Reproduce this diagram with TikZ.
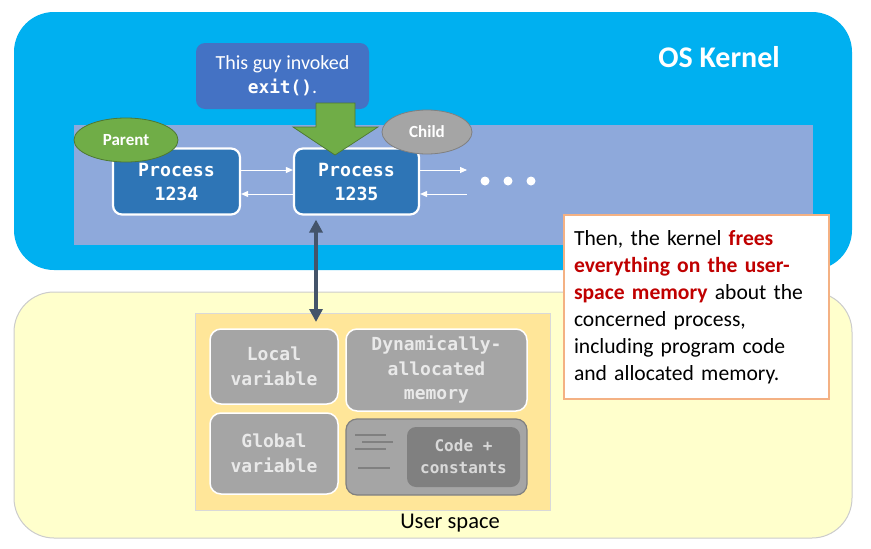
\documentclass[tikz,border=0pt]{standalone}
\usepackage{fontspec}
\setmainfont{Carlito}
\setmonofont{DejaVu Sans Mono}
\usetikzlibrary{arrows.meta,shapes.geometric}
\definecolor{kernel}{HTML}{00B0F0}
\definecolor{inner}{HTML}{8EA9DB}
\definecolor{usr}{HTML}{FFFFCC}
\definecolor{mem}{HTML}{FFE699}
\definecolor{proc}{HTML}{2E75B6}
\definecolor{call}{HTML}{4472C4}
\definecolor{grn}{HTML}{70AD47}
\definecolor{gry}{HTML}{A5A5A5}
\definecolor{dk}{HTML}{44546A}
\definecolor{red0}{HTML}{C00000}
\definecolor{org}{HTML}{F4B183}
\tikzset{
  procbox/.style={draw=white,line width=2.2pt,fill=proc,rounded corners=9pt,text=white,font=\ttfamily\bfseries\fontsize{18.2}{24}\selectfont,align=center},
  membox/.style={draw=white,line width=1.5pt,fill=gry,rounded corners=11pt,text=white!75!gry,font=\ttfamily\bfseries\fontsize{18}{24.5}\selectfont,align=center},
  wa/.style={white,line width=0.9pt,-{Triangle[length=7pt,width=6pt]}},
  codeline/.style={draw=black!50,line width=1.3pt},
  dotn/.style={circle,fill=white,inner sep=0pt,minimum size=9pt}
}
\begin{document}
\begin{tikzpicture}[x=1pt,y=-1pt]
\useasboundingbox (0,0) rectangle (871,549);
\fill[white] (0,0) rectangle (871,549);
% user space
\draw[fill=usr,draw=black!20,line width=1pt,rounded corners=40pt] (14,292) rectangle (852,538);
% kernel
\fill[kernel,rounded corners=40pt] (14,12) rectangle (852,270);
\node[text=white,font=\bfseries\fontsize{30}{34}\selectfont] (oskernel) at (719,57) {OS Kernel};
% inner band
\fill[inner] (74,125) rectangle (813,245);
% processes
\node[procbox,minimum width=127pt,minimum height=66pt] (p1) at (176.5,181.5) {Process\\1234};
\node[procbox,minimum width=125pt,minimum height=66pt] (p2) at (356.5,181.5) {Process\\1235};
% connector arrows
\coordinate (r1) at (467,170);
\coordinate (r2) at (467,194);
\draw[wa] ([yshift=11.5pt]p1.east) -- ([yshift=11.5pt]p2.west);
\draw[wa] ([yshift=-12.5pt]p2.west) -- ([yshift=-12.5pt]p1.east);
\draw[wa] ([yshift=11.5pt]p2.east) -- (r1);
\draw[wa] (r2) -- ([yshift=-12.5pt]p2.east);
\node[dotn] (d1) at (485,181) {};
\node[dotn] (d2) at (508,181) {};
\node[dotn] (d3) at (531,181) {};
% ellipses
\node[ellipse,fill=grn,draw=grn!70!black,line width=0.8pt,minimum width=104pt,minimum height=44pt,inner sep=0pt,text=white,font=\bfseries\fontsize{17}{19}\selectfont] (parent) at (126,140) {Parent};
\node[ellipse,fill=gry,draw=black!50,line width=0.8pt,minimum width=90pt,minimum height=44pt,inner sep=0pt,text=white,font=\bfseries\fontsize{17}{19}\selectfont] (child) at (427,132) {Child};
% callout
\node[fill=call,rounded corners=9pt,minimum width=173pt,minimum height=66pt,text=white,align=center,font=\fontsize{20}{24}\selectfont] (callout) at (282.5,76) {This guy invoked\\{\ttfamily\bfseries\fontsize{17.8}{24}\selectfont exit()}.};
% green arrow
\fill[grn] (316,103) -- (355,103) -- (355,127) -- (378,127) -- (335,155) -- (293,127) -- (316,127) -- cycle;
\draw[grn!70!black,line width=0.7pt] (316,103) -- (355,103) -- (355,127) -- (378,127) -- (335,155) -- (293,127) -- (316,127) -- cycle;
% memory area
\draw[fill=mem,draw=black!15,line width=1pt] (195,313) rectangle (550,510);
\node[membox,minimum width=128pt,minimum height=75pt] (local) at (274,366.5) {Local\\variable};
\node[membox,minimum width=181pt,minimum height=82pt] (dyn) at (436.5,370) {Dynamically-\\allocated\\memory};
\node[membox,minimum width=128pt,minimum height=81pt] (glob) at (274,453.5) {Global\\variable};
\node[draw=black!50,fill=gry,line width=1.2pt,rounded corners=11pt,minimum width=181pt,minimum height=76pt] (code) at (436.5,457) {};
\node[fill=black!50,rounded corners=9pt,minimum width=113pt,minimum height=60pt,text=black!15,align=center,font=\ttfamily\bfseries\fontsize{16}{22}\selectfont] (cc) at (463.5,457) {Code +\\constants};
\draw[codeline] (355,435) -- (386,435);
\draw[codeline] (362,442) -- (393,442);
\draw[codeline] (355,449) -- (386,449);
\draw[codeline] (358,468) -- (390,468);
% double arrow
\coordinate (ua) at (316,322);
\draw[dk,line width=4pt,{Triangle[length=13pt,width=13pt]}-{Triangle[length=13pt,width=13pt]}] ([yshift=-4pt]p2.south west -| ua) -- (ua);
\node[font=\fontsize{22.5}{26}\selectfont] (us) at (450,523) {User space};
% text box
\node[draw=org,fill=white,line width=1.3pt,minimum height=184pt,text width=245pt,align=left,inner xsep=10pt,inner ysep=9pt,font=\fontsize{21.6}{27}\selectfont] (tb) at (696.5,307) {Then, the kernel \textcolor{red0}{\textbf{frees}}\\\textcolor{red0}{\textbf{everything on the user-}}\\\textcolor{red0}{\textbf{space memory}} about the\\concerned process,\\including program code\\and allocated memory.};
\end{tikzpicture}
\end{document}
